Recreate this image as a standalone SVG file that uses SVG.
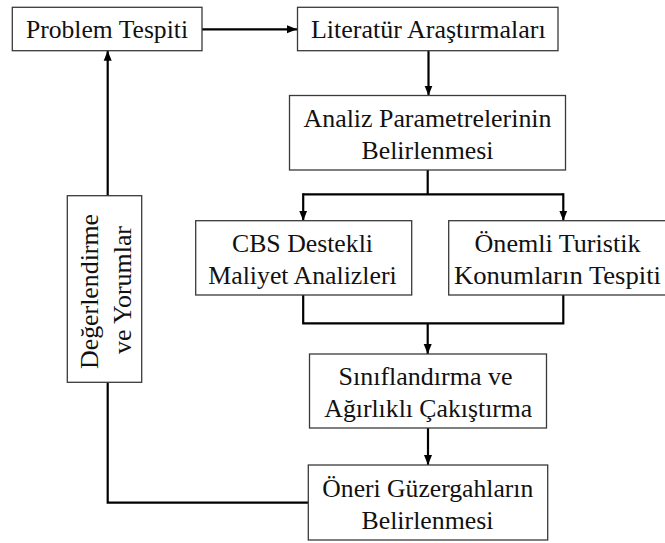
<svg xmlns="http://www.w3.org/2000/svg" width="665" height="543" viewBox="0 0 665 543">
<style>
.box{fill:#ffffff;stroke:#3a3a3a;stroke-width:1.3}
.t{font-family:'Liberation Serif','Times New Roman','DejaVu Serif',serif;font-size:26px;fill:#111;text-anchor:middle}
.c{fill:none;stroke:#000;stroke-width:2.2}
</style>
<defs>
<marker id="ah" markerUnits="userSpaceOnUse" markerWidth="10" markerHeight="10" viewBox="0 0 10 10" refX="10" refY="5" orient="auto">
<path d="M0,1 L10,5 L0,9 Z" fill="#000"/>
</marker>
</defs>
<rect width="665" height="543" fill="#ffffff"/>
<g id="connectors">
<path class="c" d="M202,29.3 H297" marker-end="url(#ah)"/>
<path class="c" d="M428.5,50.7 V95.5" marker-end="url(#ah)"/>
<path class="c" d="M427.7,170 V194.3"/>
<path class="c" d="M303.2,194.3 H563.3"/>
<path class="c" d="M303.2,193.2 V220.7" marker-end="url(#ah)"/>
<path class="c" d="M563.3,193.2 V220.7" marker-end="url(#ah)"/>
<path class="c" d="M303.2,295 V323.3 H563.3 V295"/>
<path class="c" d="M427.7,323.3 V354" marker-end="url(#ah)"/>
<path class="c" d="M428,428 V465" marker-end="url(#ah)"/>
<path class="c" d="M308.3,502.7 H107.7 V382.3"/>
<path class="c" d="M107.7,195.7 V50.7" marker-end="url(#ah)"/>
</g>
<g id="problem">
<rect class="box" x="12.3" y="7.3" width="189.7" height="43.4"/>
<text class="t" x="107" y="38.3" textLength="162" lengthAdjust="spacingAndGlyphs">Problem Tespiti</text>
</g>
<g id="literatur">
<rect class="box" x="297.5" y="7.3" width="260.5" height="43.4"/>
<text class="t" x="428.3" y="38.3" textLength="234.7" lengthAdjust="spacingAndGlyphs">Literatür Araştırmaları</text>
</g>
<g id="analiz">
<rect class="box" x="289.5" y="95.5" width="276" height="74.5"/>
<text class="t" x="427.5" y="126.7" textLength="248" lengthAdjust="spacingAndGlyphs">Analiz Parametrelerinin</text>
<text class="t" x="427.5" y="159" textLength="132" lengthAdjust="spacingAndGlyphs">Belirlenmesi</text>
</g>
<g id="cbs">
<rect class="box" x="195.7" y="220.7" width="216" height="74.3"/>
<text class="t" x="302.5" y="251.7" textLength="141" lengthAdjust="spacingAndGlyphs">CBS Destekli</text>
<text class="t" x="302.5" y="284" textLength="188.3" lengthAdjust="spacingAndGlyphs">Maliyet Analizleri</text>
</g>
<g id="onemli">
<rect class="box" x="448.7" y="220.7" width="220" height="74.3"/>
<text class="t" x="557.5" y="251.7" textLength="166" lengthAdjust="spacingAndGlyphs">Önemli Turistik</text>
<text class="t" x="557.5" y="284" textLength="207" lengthAdjust="spacingAndGlyphs">Konumların Tespiti</text>
</g>
<g id="siniflandirma">
<rect class="box" x="309.5" y="354" width="237" height="74"/>
<text class="t" x="425.5" y="385" textLength="174" lengthAdjust="spacingAndGlyphs">Sınıflandırma ve</text>
<text class="t" x="428.3" y="417" textLength="208" lengthAdjust="spacingAndGlyphs">Ağırlıklı Çakıştırma</text>
</g>
<g id="oneri">
<rect class="box" x="308.3" y="465" width="239.4" height="75"/>
<text class="t" x="427.8" y="496.7" textLength="211" lengthAdjust="spacingAndGlyphs">Öneri Güzergahların</text>
<text class="t" x="427.5" y="528.5" textLength="132" lengthAdjust="spacingAndGlyphs">Belirlenmesi</text>
</g>
<g id="degerlendirme">
<rect class="box" x="67.3" y="195.7" width="74.4" height="186.6"/>
<text class="t" transform="translate(98.3,291.5) rotate(-90)" x="0" y="0" textLength="155" lengthAdjust="spacingAndGlyphs">Değerlendirme</text>
<text class="t" transform="translate(130.6,290) rotate(-90)" x="0" y="0" textLength="128" lengthAdjust="spacingAndGlyphs">ve Yorumlar</text>
</g>
</svg>
